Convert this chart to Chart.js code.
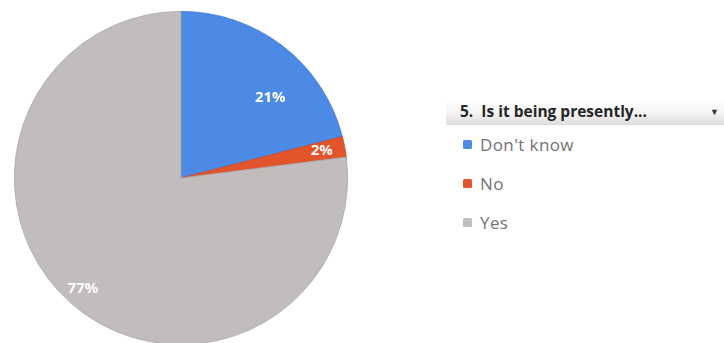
<!DOCTYPE html>
<html>
<head>
<meta charset="utf-8">
<script src="https://cdn.jsdelivr.net/npm/chart.js@4/dist/chart.umd.min.js"></script>
<style>
  html, body { margin: 0; padding: 0; width: 724px; height: 343px; overflow: hidden; background: #fff; }
  #pieBox { position: absolute; left: 0; top: 0; width: 362px; height: 356px; }
  #legend { position: absolute; left: 446px; top: 100px; width: 278px; font-family: "Open Sans", "Noto Sans", sans-serif; }
  #legendTitle { height: 25px; line-height: 23px; padding-left: 14px; font-size: 15.5px; font-weight: 700; color: #262626;
    background: linear-gradient(to bottom, #ffffff 0%, #f4f2f2 55%, #dedbdb 100%); position: relative; white-space: pre; }
  #legendTitle .arrow { position: absolute; right: 5px; top: 0; font-size: 9px; color: #333; }
  #items { position: absolute; left: 0; top: 25px; }
  .item { height: 39px; line-height: 39px; padding-left: 17px; font-size: 17px; color: #727272; display: flex; align-items: center; letter-spacing: 0.4px; }
  .item .sw { width: 9px; height: 9px; margin-right: 8px; border-radius: 1.5px; }
</style>
</head>
<body>
<div id="pieBox"><canvas id="c"></canvas></div>
<div id="legend">
  <div id="legendTitle"></div>
  <div id="items"></div>
</div>
<script>
const legendTitle = "5.  Is it being presently...";
const categories = ["Don't know", "No", "Yes"];
const values = [21, 2, 77];
const valueLabels = ["21%", "2%", "77%"];
const colors = ["#4d8ae6", "#e2552c", "#c1bdbd"];
const labelRadiusFrac = [0.72, 0.86, 0.89];

const titleEl = document.getElementById('legendTitle');
titleEl.textContent = legendTitle;
const arrow = document.createElement('span');
arrow.className = 'arrow';
arrow.textContent = '\u25BC';
titleEl.appendChild(arrow);

const itemsEl = document.getElementById('items');
categories.forEach((c, i) => {
  const d = document.createElement('div');
  d.className = 'item';
  const sw = document.createElement('span');
  sw.className = 'sw';
  sw.style.background = colors[i];
  const t = document.createElement('span');
  t.textContent = c;
  d.appendChild(sw);
  d.appendChild(t);
  itemsEl.appendChild(d);
});

const labelPlugin = {
  id: 'sliceLabels',
  afterDatasetsDraw(chart) {
    const ctx = chart.ctx;
    const meta = chart.getDatasetMeta(0);
    ctx.save();
    ctx.font = 'bold 15px "Open Sans", "Noto Sans", sans-serif';
    ctx.fillStyle = '#ffffff';
    ctx.textAlign = 'center';
    ctx.textBaseline = 'middle';
    meta.data.forEach((arc, i) => {
      const p = arc.getProps(['x', 'y', 'startAngle', 'endAngle', 'outerRadius']);
      let mid = (p.startAngle + p.endAngle) / 2;
      if (i === 0) mid += 0.18;
      const r = p.outerRadius * labelRadiusFrac[i];
      ctx.fillText(valueLabels[i], p.x + Math.cos(mid) * r, p.y + Math.sin(mid) * r);
    });
    ctx.restore();
  }
};

new Chart(document.getElementById('c'), {
  type: 'pie',
  data: {
    labels: categories,
    datasets: [{
      data: values,
      backgroundColor: colors,
      borderColor: ['#3f78cf', '#c94a26', '#a9a5a5'],
      borderWidth: 0.8
    }]
  },
  options: {
    responsive: true,
    maintainAspectRatio: false,
    animation: false,
    layout: { padding: { left: 12, right: 12, top: 11, bottom: 11 } },
    plugins: { legend: { display: false }, tooltip: { enabled: false } }
  },
  plugins: [labelPlugin]
});
</script>
</body>
</html>
